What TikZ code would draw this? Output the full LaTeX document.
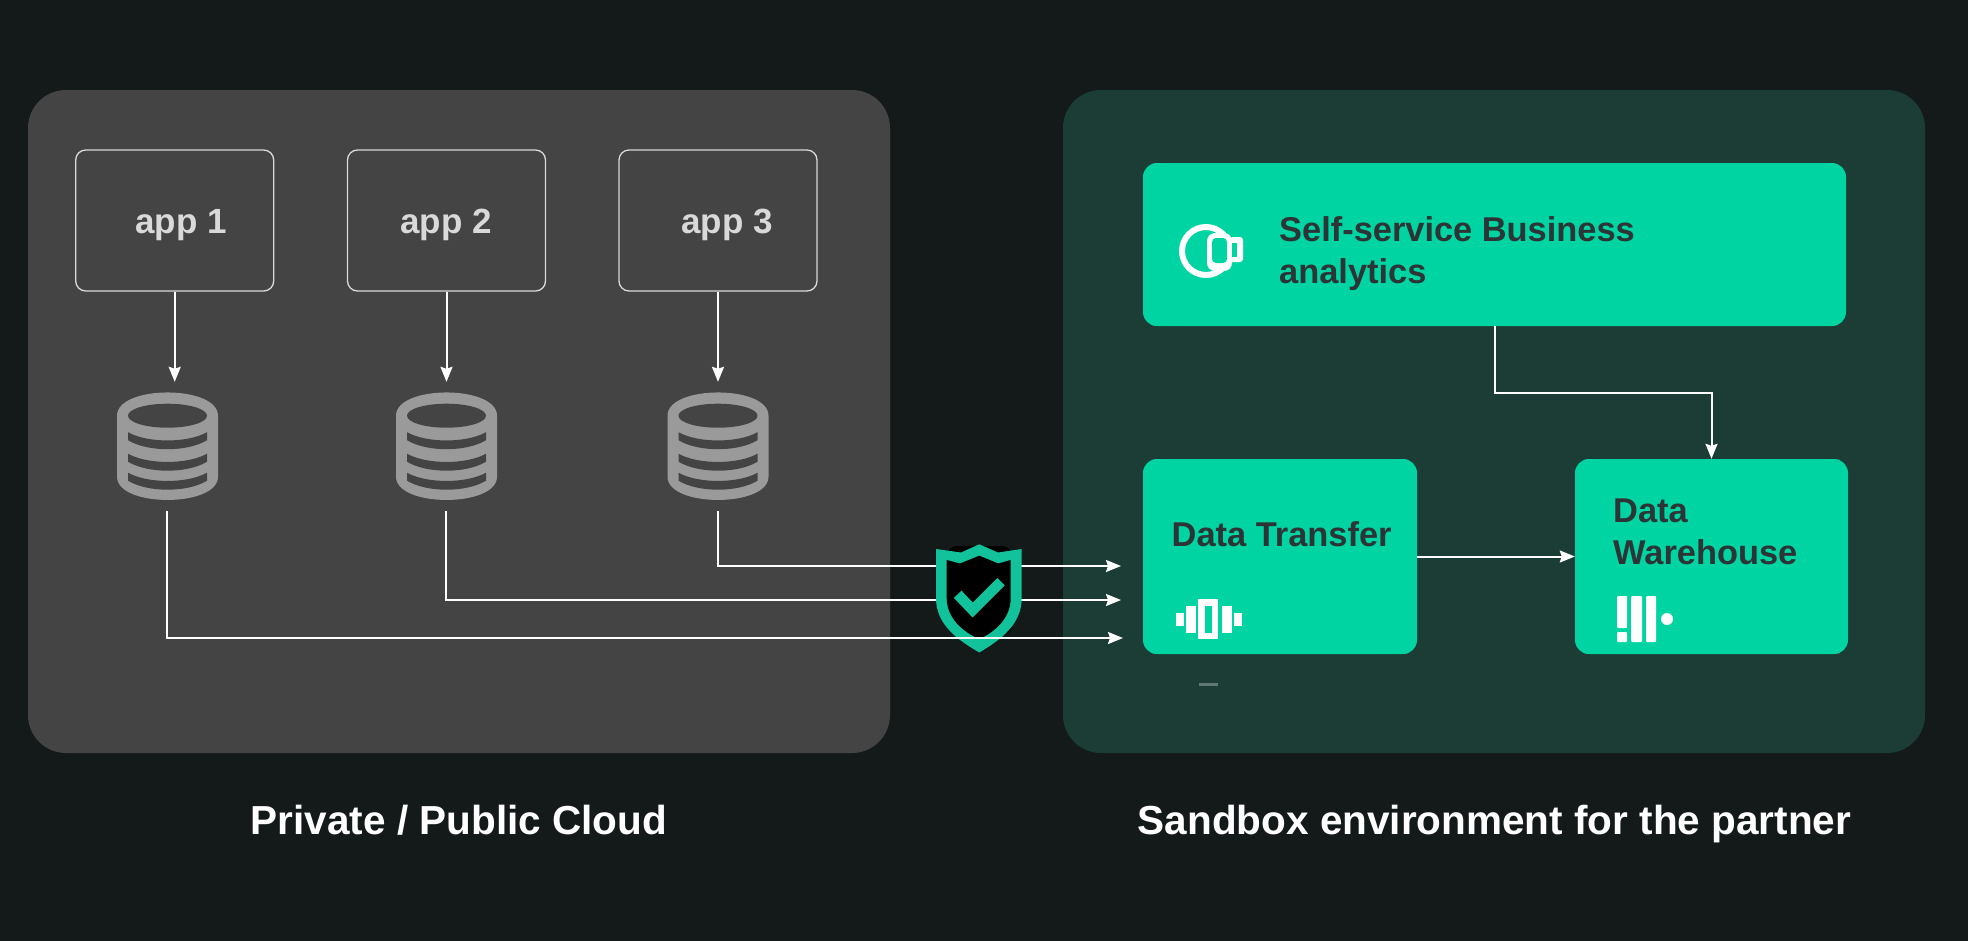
\documentclass[tikz,border=0pt]{standalone}
\usepackage{fontspec}
\setmainfont{Liberation Sans}
\usetikzlibrary{arrows.meta}
\definecolor{pagedark}{HTML}{141A1A}
\definecolor{cloudgrey}{HTML}{444444}
\definecolor{sandgreen}{HTML}{1C3D35}
\definecolor{boxgreen}{HTML}{00D4A2}
\definecolor{boxtext}{HTML}{2D3436}
\definecolor{dbgrey}{HTML}{9A9A9A}
\definecolor{shieldteal}{HTML}{12C29A}
\tikzset{
  panel/.style={rounded corners=38pt, minimum width=#1, minimum height=663pt, inner sep=0pt},
  appbox/.style={draw=white!85!black, line width=1.3pt, rounded corners=10pt, minimum width=198pt, minimum height=141pt},
  dbspot/.style={minimum width=102pt, minimum height=129pt, inner sep=0pt},
  greenbox/.style={fill=boxgreen, rounded corners=14pt, inner sep=0pt},
  applabel/.style={anchor=base, text=white!85!black, font=\fontsize{35}{40}\selectfont\bfseries},
  boxlabel/.style={anchor=base west, text=boxtext, inner sep=0pt, align=left, font=\fontsize{34.4}{42}\selectfont\bfseries},
  caption/.style={anchor=base, text=white, font=\fontsize{40.5}{48}\selectfont\bfseries},
  flow/.style={draw=white, line width=2pt, -{Stealth[length=15pt, width=12pt, inset=2pt]}},
  dbicon/.pic={
    \fill[dbgrey] (-50.5,0) .. controls (-50.5,-31) and (50.5,-31) .. (50.5,0)
      -- (50.5,61) .. controls (50.5,92) and (-50.5,92) .. (-50.5,61) -- cycle;
    \fill[cloudgrey] (0,0) ellipse [x radius=39.5, y radius=12];
    \foreach \a in {16.5,38,57}
      \fill[cloudgrey] (-39.5,\a) .. controls (-20,\a+11) and (20,\a+11) .. (39.5,\a)
        -- (39.5,\a+8) .. controls (20,\a+20) and (-20,\a+20) .. (-39.5,\a+8) -- cycle;
  }
}
\begin{document}
\begin{tikzpicture}[x=1pt, y=-1pt]
  \useasboundingbox (0,0) rectangle (1968,940);
  \fill[pagedark] (-3,-3) rectangle (1971,943);

  \node[panel=862pt, fill=cloudgrey] (cloud) at (459,421.5) {};
  \node[panel=862pt, fill=sandgreen] (sandbox) at (1494,421.5) {};

  \node[appbox] (app1) at (174.7,220.5) {};
  \node[appbox] (app2) at (446.5,220.5) {};
  \node[appbox] (app3) at (718,220.5) {};
  \node[applabel] (name1) at (181,233) {app 1};
  \node[applabel] (name2) at (446,233) {app 2};
  \node[applabel] (name3) at (727,233) {app 3};

  \node[dbspot] (db1) at (167,446.5) {};
  \node[dbspot] (db2) at (446,446.5) {};
  \node[dbspot] (db3) at (718,446.5) {};
  \pic at (167.5,415.7) {dbicon};
  \pic at (446.5,415.7) {dbicon};
  \pic at (718,415.7) {dbicon};

  \node[greenbox, minimum width=703pt, minimum height=163pt] (biz) at (1494.5,244.5) {};
  \node[greenbox, minimum width=274pt, minimum height=195pt] (dt) at (1280,556.5) {};
  \node[greenbox, minimum width=273pt, minimum height=195pt] (dwh) at (1711.5,556.5) {};
  \node[boxlabel] (biztext) at (1279,283) {Self-service Business\\analytics};
  \node[boxlabel] (dttext) at (1171.5,546) {Data Transfer};
  \node[boxlabel] (dwhtext) at (1613,564) {Data\\Warehouse};

  \coordinate (in3) at (1121,566);
  \coordinate (in2) at (1121,600);
  \coordinate (in1) at (1123,638);

  \path
  (app1.south) edge[flow] (app1.south |- db1.north)
  (app2.south) edge[flow] (app2.south |- db2.north)
  (app3.south) edge[flow] (app3.south |- db3.north)
  (dt.east) edge[flow] (dwh.west)
  ;
  \draw[flow] (biz.south) -- ++(0,67) -| (dwh.north);
  \draw[flow] (db3.south) |- (in3);
  \draw[flow] (db2.south) |- (in2);

  \fill[black, rounded corners=10pt] (947,546) rectangle (1012,635);
  \fill[shieldteal] (936,549) -- (961,552.5) -- (979.3,544.3) -- (998,552.5) -- (1021.7,549) -- (1021.7,598)
    .. controls (1021.7,625) and (1000,640) .. (979.3,652.5)
    .. controls (958,640) and (936,625) .. (936,598) -- cycle;
  \fill[black] (946.7,560) -- (960,563.5) -- (979.3,555.7) -- (998.3,563.5) -- (1010.7,560) -- (1010.7,598)
    .. controls (1010.7,618) and (995,632) .. (979.3,639)
    .. controls (963,632) and (946.7,618) .. (946.7,598) -- cycle;
  \draw[shieldteal, line width=10.5pt] (957.7,594.3) -- (972.7,610) -- (1001,581.7);

  \draw[flow] (db1.south) |- (in1);

  \draw[white, line width=6pt] (1206,251) circle [radius=24];
  \fill[white, rounded corners=8pt] (1207,233) rectangle (1232,271);
  \fill[boxgreen, rounded corners=4pt] (1212,238) rectangle (1227,263);
  \fill[white, rounded corners=3pt] (1230,237) rectangle (1243,262);
  \fill[boxgreen] (1232,243) rectangle (1237,257);

  \fill[white] (1198,599) rectangle (1218,639);
  \fill[boxgreen] (1205,606) rectangle (1212,633);
  \foreach \x in {1186,1222} \fill[white] (\x,606) rectangle (\x+10,633);
  \foreach \x in {1176,1234} \fill[white] (\x,613) rectangle (\x+8,626);
  \fill[sandgreen!70!white] (1199,683) rectangle (1218,685.5);

  \fill[white, rounded corners=1pt] (1617,596) rectangle (1627,628);
  \fill[white, rounded corners=1pt] (1617,632) rectangle (1627,642);
  \fill[white, rounded corners=1pt] (1631,596) rectangle (1642,642);
  \fill[white, rounded corners=1pt] (1646,596) rectangle (1656,642);
  \fill[white] (1667,619) circle [radius=6];

  \node[caption] (cloudname) at (459,834) {Private / Public Cloud};
  \node[caption] (sandname) at (1494.5,834) {Sandbox environment for the partner};
\end{tikzpicture}
\end{document}
